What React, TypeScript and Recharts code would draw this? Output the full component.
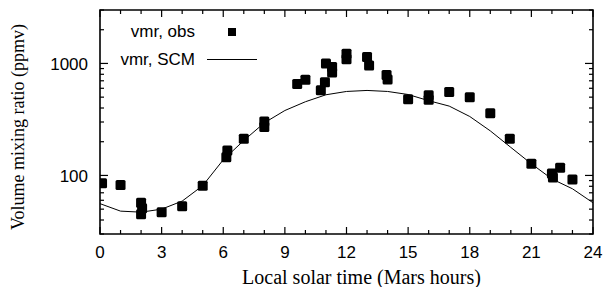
import React from 'react';
import { ComposedChart, Scatter, Line, XAxis, YAxis, Legend, ReferenceArea } from 'recharts';

const obsHours = [0.1, 1.0, 2.0, 2.05, 2.0, 3.0, 4.0, 5.0, 6.15, 6.2, 7.0, 8.0, 8.0, 9.6, 10.0, 10.75, 10.95, 11.0, 11.3, 11.3, 12.0, 12.0, 13.0, 13.1, 13.95, 14.0, 15.0, 16.0, 16.0, 17.0, 18.0, 19.0, 19.95, 21.0, 22.0, 22.05, 22.4, 23.0];
const obsVmr = [85, 82, 57, 51, 45, 47, 53, 81, 145, 167, 213, 270, 303, 655, 715, 575, 680, 1000, 930, 830, 1220, 1090, 1140, 960, 790, 720, 480, 520, 475, 555, 500, 360, 213, 127, 104, 96, 117, 92];

const scmHours = [0, 1, 2, 3, 4, 5, 6, 7, 8, 9, 10, 11, 12, 13, 14, 15, 16, 17, 18, 19, 20, 21, 22, 23, 24];
const scmVmr = [56, 48, 47, 50, 59, 81, 138, 205, 295, 380, 455, 525, 562, 574, 562, 528, 465, 416, 336, 250, 178, 127, 93, 76, 57];

const xTicks = [0, 1, 2, 3, 4, 5, 6, 7, 8, 9, 10, 11, 12, 13, 14, 15, 16, 17, 18, 19, 20, 21, 22, 23, 24];
const xLabelTicks = [0, 3, 6, 9, 12, 15, 18, 21, 24];
const yTicks = [30, 40, 50, 60, 70, 80, 90, 100, 200, 300, 400, 500, 600, 700, 800, 900, 1000, 2000, 3000];
const yLabelTicks = [100, 1000];
const xDomain = [0, 24];
const yDomain = [30, 3000];

const seriesNames = ['vmr, obs', 'vmr, SCM'];
const xTitle = 'Local solar time (Mars hours)';
const yTitle = 'Volume mixing ratio (ppmv)';

const obsData = obsHours.map((h, i) => ({ h, v: obsVmr[i] }));
const scmData = scmHours.map((h, i) => ({ h, v: scmVmr[i] }));

const SANS = '"Liberation Sans", Arial, Helvetica, sans-serif';
const SERIF = '"Liberation Serif", "Times New Roman", Times, serif';

const XTickBottom = (props: any) => {
  const { x, y, payload } = props;
  const major = xLabelTicks.includes(payload.value);
  return (
    <g>
      <line x1={x} x2={x} y1={y} y2={y - (major ? 7 : 4)} stroke="#000" strokeWidth={1.2} />
      {major && (
        <text x={x} y={y + 24} textAnchor="middle" fontFamily={SANS} fontSize={17} fill="#000">
          {payload.value}
        </text>
      )}
    </g>
  );
};

const XTickTop = (props: any) => {
  const { x, y, payload } = props;
  const major = xLabelTicks.includes(payload.value);
  return <line x1={x} x2={x} y1={y} y2={y + (major ? 7 : 4)} stroke="#000" strokeWidth={1.2} />;
};

const YTickLeft = (props: any) => {
  const { x, y, payload } = props;
  const major = yLabelTicks.includes(payload.value);
  return (
    <g>
      <line x1={x} x2={x + (major ? 8 : 4)} y1={y} y2={y} stroke="#000" strokeWidth={1.2} />
      {major && (
        <text x={x - 12} y={y + 7} textAnchor="end" fontFamily={SANS} fontSize={17} fill="#000">
          {payload.value}
        </text>
      )}
    </g>
  );
};

const YTickRight = (props: any) => {
  const { x, y, payload } = props;
  const major = yLabelTicks.includes(payload.value);
  return <line x1={x} x2={x - (major ? 8 : 4)} y1={y} y2={y} stroke="#000" strokeWidth={1.2} />;
};

const SquareShape = (props: any) => {
  const { cx, cy } = props;
  return <rect x={cx - 5} y={cy - 5} width={10} height={10} rx={1.5} fill="#000" />;
};

const XTitle = (props: any) => {
  const vb = props.viewBox || {};
  return (
    <text x={vb.x + vb.width / 2 + 15} y={vb.y + 50} textAnchor="middle" fontFamily={SERIF} fontSize={20} fill="#000">
      {xTitle}
    </text>
  );
};

const YTitle = (props: any) => {
  const vb = props.viewBox || {};
  const cx = 18;
  const cy = vb.y + vb.height / 2 + 5;
  return (
    <text x={cx} y={cy} transform={`rotate(-90 ${cx} ${cy})`} textAnchor="middle" dominantBaseline="central" fontFamily={SERIF} fontSize={18} fill="#000">
      {yTitle}
    </text>
  );
};

const LegendContent = () => (
  <div style={{ position: 'relative', width: 609, height: 80, fontFamily: SANS, fontSize: 17, color: '#000' }}>
    <div style={{ position: 'absolute', right: 414, top: 22, lineHeight: '20px', whiteSpace: 'nowrap' }}>{seriesNames[0]}</div>
    <div style={{ position: 'absolute', left: 228, top: 28, width: 8, height: 8, background: '#000' }} />
    <div style={{ position: 'absolute', right: 414, top: 50, lineHeight: '20px', whiteSpace: 'nowrap' }}>{seriesNames[1]}</div>
    <div style={{ position: 'absolute', left: 207, top: 59, width: 50, height: 0, borderTop: '1px solid #000' }} />
  </div>
);

export default function App() {
  return (
    <div style={{ position: 'absolute', left: 0, top: 0, width: 609, height: 287, background: '#fff' }}>
      <ComposedChart width={609} height={287} margin={{ top: 9, right: 15, bottom: 0, left: 0 }}>
        <XAxis
          xAxisId="b"
          type="number"
          dataKey="h"
          domain={xDomain}
          ticks={xTicks}
          interval={0}
          height={53}
          tickSize={0}
          tickMargin={0}
          tickLine={false}
          tick={<XTickBottom />}
          axisLine={false}
          allowDataOverflow
          label={<XTitle />}
        />
        <XAxis
          xAxisId="t"
          orientation="top"
          type="number"
          dataKey="h"
          domain={xDomain}
          ticks={xTicks}
          interval={0}
          height={1}
          tickSize={0}
          tickMargin={0}
          tickLine={false}
          tick={<XTickTop />}
          axisLine={false}
          allowDataOverflow
        />
        <YAxis
          yAxisId="l"
          scale="log"
          type="number"
          domain={yDomain}
          ticks={yTicks}
          interval={0}
          width={100}
          tickSize={0}
          tickMargin={0}
          tickLine={false}
          tick={<YTickLeft />}
          axisLine={false}
          allowDataOverflow
          label={<YTitle />}
        />
        <YAxis
          yAxisId="r"
          orientation="right"
          scale="log"
          type="number"
          domain={yDomain}
          ticks={yTicks}
          interval={0}
          width={1}
          tickSize={0}
          tickMargin={0}
          tickLine={false}
          tick={<YTickRight />}
          axisLine={false}
          allowDataOverflow
        />
        <ReferenceArea
          xAxisId="b"
          yAxisId="l"
          x1={xDomain[0]}
          x2={xDomain[1]}
          y1={yDomain[0]}
          y2={yDomain[1]}
          fill="none"
          fillOpacity={0}
          stroke="#000"
          strokeWidth={1.6}
          ifOverflow="visible"
        />
        <Legend
          layout="vertical"
          align="center"
          verticalAlign="middle"
          wrapperStyle={{ left: 0, top: 0, width: 609, height: 80 }}
          content={<LegendContent />}
        />
        <Line
          xAxisId="b"
          yAxisId="l"
          data={scmData}
          dataKey="v"
          name={seriesNames[1]}
          type="linear"
          stroke="#000"
          strokeWidth={1}
          dot={false}
          activeDot={false}
          isAnimationActive={false}
        />
        <Scatter
          xAxisId="b"
          yAxisId="l"
          data={obsData}
          dataKey="v"
          name={seriesNames[0]}
          fill="#000"
          shape={<SquareShape />}
          isAnimationActive={false}
        />
      </ComposedChart>
    </div>
  );
}
